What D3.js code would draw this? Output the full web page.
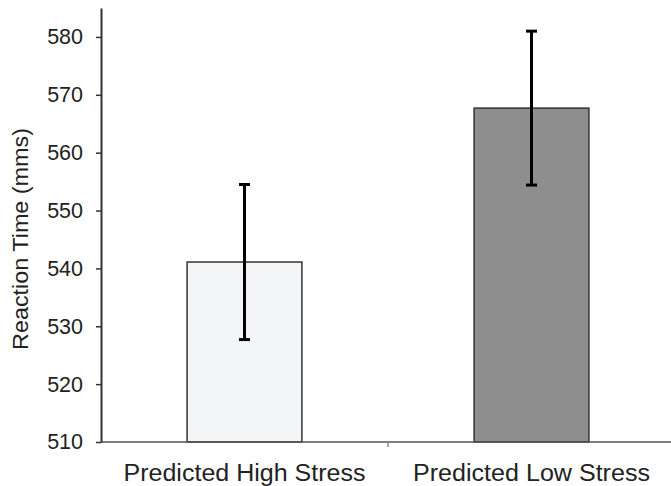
<!DOCTYPE html>
<html>
<head>
<meta charset="utf-8">
<script src="https://cdn.jsdelivr.net/npm/d3@7"></script>
<style>
  html, body { margin: 0; padding: 0; background: #ffffff; }
  svg { display: block; }
  text { font-family: "Liberation Sans", Arial, Helvetica, sans-serif; fill: #222; }
</style>
</head>
<body>
<svg id="chart" width="671" height="486"></svg>
<script>
// Mean reaction time per predicted-stress group, with error-bar half widths
const categories = ["Predicted High Stress", "Predicted Low Stress"];
const meanRT = [541.1, 567.7];
const errRT = [13.4, 13.3];
const barFills = ["#f4f5f6", "#8e8e8e"];
const yTicks = [510, 520, 530, 540, 550, 560, 570, 580];
const yLabel = "Reaction Time (mms)";

const svg = d3.select("#chart");
const plotLeft = 101, plotRight = 675, plotTop = 8, plotBottom = 442;

const x = d3.scaleBand()
  .domain(categories)
  .range([plotLeft, plotRight])
  .paddingInner(0.6)
  .paddingOuter(0.3);

const y = d3.scaleLinear()
  .domain([510, 585])
  .range([plotBottom, plotTop]);

const axisColor = "#333";

// bars
svg.append("g").selectAll("rect")
  .data(categories)
  .join("rect")
  .attr("x", d => x(d))
  .attr("y", (d, i) => y(meanRT[i]))
  .attr("width", x.bandwidth())
  .attr("height", (d, i) => y(510) - y(meanRT[i]))
  .attr("fill", (d, i) => barFills[i])
  .attr("stroke", axisColor)
  .attr("stroke-width", 1.5);

// x axis baseline and the tick between the two groups
svg.append("line")
  .attr("x1", plotLeft).attr("x2", 671)
  .attr("y1", y(510)).attr("y2", y(510))
  .attr("stroke", "#555").attr("stroke-width", 1.5);
const midX = (x(categories[0]) + x.bandwidth() + x(categories[1])) / 2;
svg.append("line")
  .attr("x1", midX).attr("x2", midX)
  .attr("y1", y(510)).attr("y2", y(510) + 5)
  .attr("stroke", "#888").attr("stroke-width", 1.5);

// y axis
const yAxis = d3.axisLeft(y)
  .tickValues(yTicks)
  .tickSize(5)
  .tickSizeOuter(0)
  .tickPadding(13)
  .tickFormat(d3.format("d"));
const gy = svg.append("g")
  .attr("transform", `translate(${plotLeft},0)`)
  .call(yAxis);
gy.select(".domain").attr("stroke", axisColor).attr("stroke-width", 2);
gy.selectAll(".tick line").attr("stroke", axisColor).attr("stroke-width", 1.5);
gy.selectAll(".tick text")
  .attr("font-size", 21.5)
  .attr("font-family", "Liberation Sans, Arial, sans-serif")
  .attr("fill", "#222");

// error bars
const eb = svg.append("g").selectAll("g")
  .data(categories)
  .join("g");
eb.append("line")
  .attr("x1", d => x(d) + x.bandwidth() / 2)
  .attr("x2", d => x(d) + x.bandwidth() / 2)
  .attr("y1", (d, i) => y(meanRT[i] + errRT[i]))
  .attr("y2", (d, i) => y(meanRT[i] - errRT[i]))
  .attr("stroke", "#000").attr("stroke-width", 3);
[1, -1].forEach(sgn => {
  eb.append("line")
    .attr("x1", d => x(d) + x.bandwidth() / 2 - 5.5)
    .attr("x2", d => x(d) + x.bandwidth() / 2 + 5.5)
    .attr("y1", (d, i) => y(meanRT[i] + sgn * errRT[i]))
    .attr("y2", (d, i) => y(meanRT[i] + sgn * errRT[i]))
    .attr("stroke", "#000").attr("stroke-width", 3);
});

// category labels (slightly wide lettering)
svg.append("g").selectAll("text")
  .data(categories)
  .join("text")
  .attr("x", d => x(d) + x.bandwidth() / 2)
  .attr("y", 481)
  .attr("text-anchor", "middle")
  .attr("font-size", 23)
  .attr("textLength", (d, i) => i === 0 ? 242 : 237)
  .attr("lengthAdjust", "spacingAndGlyphs")
  .text(d => d);

// y axis title
svg.append("text")
  .attr("transform", `translate(28,239) rotate(-90)`)
  .attr("text-anchor", "middle")
  .attr("font-size", 22)
  .attr("textLength", 222)
  .attr("lengthAdjust", "spacingAndGlyphs")
  .text(yLabel);
</script>
</body>
</html>
